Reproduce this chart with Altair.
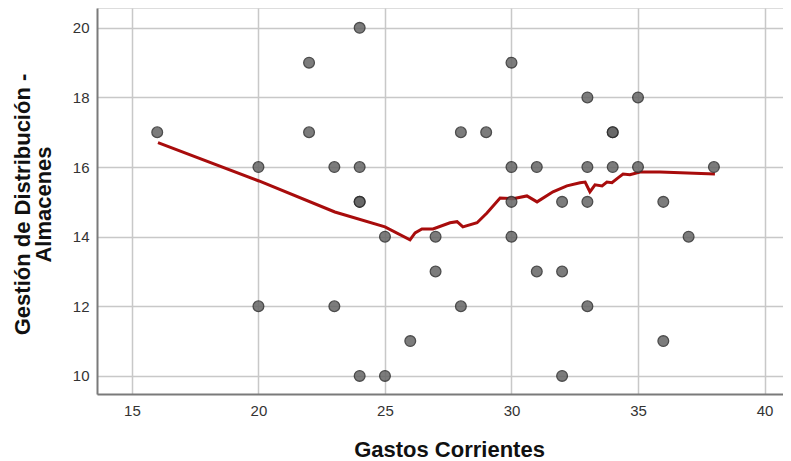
import altair as alt
import pandas as pd

# Scatter data (Gastos Corrientes vs Gestión de Distribución - Almacenes)
gastos = [16, 20, 20, 22, 22, 23, 23, 24, 24, 24, 24, 24, 25, 25, 26, 27, 27, 28, 28, 29,
          30, 30, 30, 30, 31, 31, 32, 32, 32, 33, 33, 33, 33, 34, 34, 34, 35, 35, 36, 36, 37, 38]
gestion = [17, 16, 12, 19, 17, 16, 12, 20, 16, 15, 15, 10, 14, 10, 11, 14, 13, 17, 12, 17,
           19, 16, 15, 14, 16, 13, 15, 13, 10, 18, 16, 15, 12, 17, 17, 16, 18, 16, 15, 11, 14, 16]

# Fitted (loess) line
fit_x = [16.03, 20.02, 23.02, 25.0, 25.99, 26.19, 26.46, 26.90, 27.57, 27.85, 28.08, 28.64,
         29.03, 29.55, 30.06, 30.61, 31.01, 31.64, 32.19, 32.71, 32.91, 33.10, 33.30, 33.58,
         33.77, 33.97, 34.21, 34.41, 34.68, 35.08, 35.87, 38.04]
fit_y = [16.70, 15.60, 14.71, 14.28, 13.91, 14.11, 14.22, 14.22, 14.40, 14.43, 14.28, 14.40,
         14.68, 15.11, 15.09, 15.17, 15.00, 15.29, 15.46, 15.55, 15.57, 15.29, 15.49, 15.46,
         15.57, 15.55, 15.69, 15.80, 15.78, 15.86, 15.86, 15.80]

x_ticks = [15, 20, 25, 30, 35, 40]
y_ticks = [10, 12, 14, 16, 18, 20]

pts = pd.DataFrame({"x": gastos, "y": gestion})
fit = pd.DataFrame({"x": fit_x, "y": fit_y, "o": list(range(len(fit_x)))})

FONT = "Liberation Sans"

xscale = alt.Scale(domain=[13.62, 40.73], nice=False, zero=False)
yscale = alt.Scale(domain=[9.48, 20.57], nice=False, zero=False)

xaxis = alt.Axis(values=x_ticks, title="Gastos Corrientes", grid=True, ticks=False,
                 labelPadding=9, labelFontSize=15, labelColor="#333333", labelFont=FONT,
                 titleFont=FONT, titleFontSize=22, titleFontWeight="bold", titleColor="#111111",
                 titleX=352, titleY=55, titleBaseline="middle", titleAnchor="middle",
                 gridColor="#c8c8c8", gridWidth=1.5, domainColor="#7a7a7a", domainWidth=2)
yaxis = alt.Axis(values=y_ticks, title=["Gestión de Distribución -", "Almacenes"], grid=True,
                 ticks=False, labelPadding=8, labelFontSize=15, labelColor="#333333",
                 labelFont=FONT, titleFont=FONT, titleFontSize=22, titleFontWeight="bold",
                 titleColor="#111111", titleLineHeight=21, titleAngle=-90,
                 titleX=-75, titleY=196, titleBaseline="middle", titleAlign="center",
                 gridColor="#c8c8c8", gridWidth=1.5, domainColor="#7a7a7a", domainWidth=2)

line = alt.Chart(fit).mark_line(color="#a80c0c", strokeWidth=3).encode(
    x=alt.X("x:Q", scale=xscale, axis=xaxis),
    y=alt.Y("y:Q", scale=yscale, axis=yaxis),
    order="o:Q",
)

points = alt.Chart(pts).mark_circle(size=115, color="#666666", opacity=0.85,
                                    stroke="#2e2e2e", strokeWidth=1.3).encode(
    x=alt.X("x:Q", scale=xscale),
    y=alt.Y("y:Q", scale=yscale),
)

chart = alt.layer(line, points).properties(
    width=686, height=386,
    autosize=alt.AutoSizeParams(type="none"),
    padding={"left": 89, "top": 0, "right": 0, "bottom": 67},
).configure_view(stroke=None).configure(background="white")

chart.save("out.html", embed_options={"renderer": "svg", "actions": False})
